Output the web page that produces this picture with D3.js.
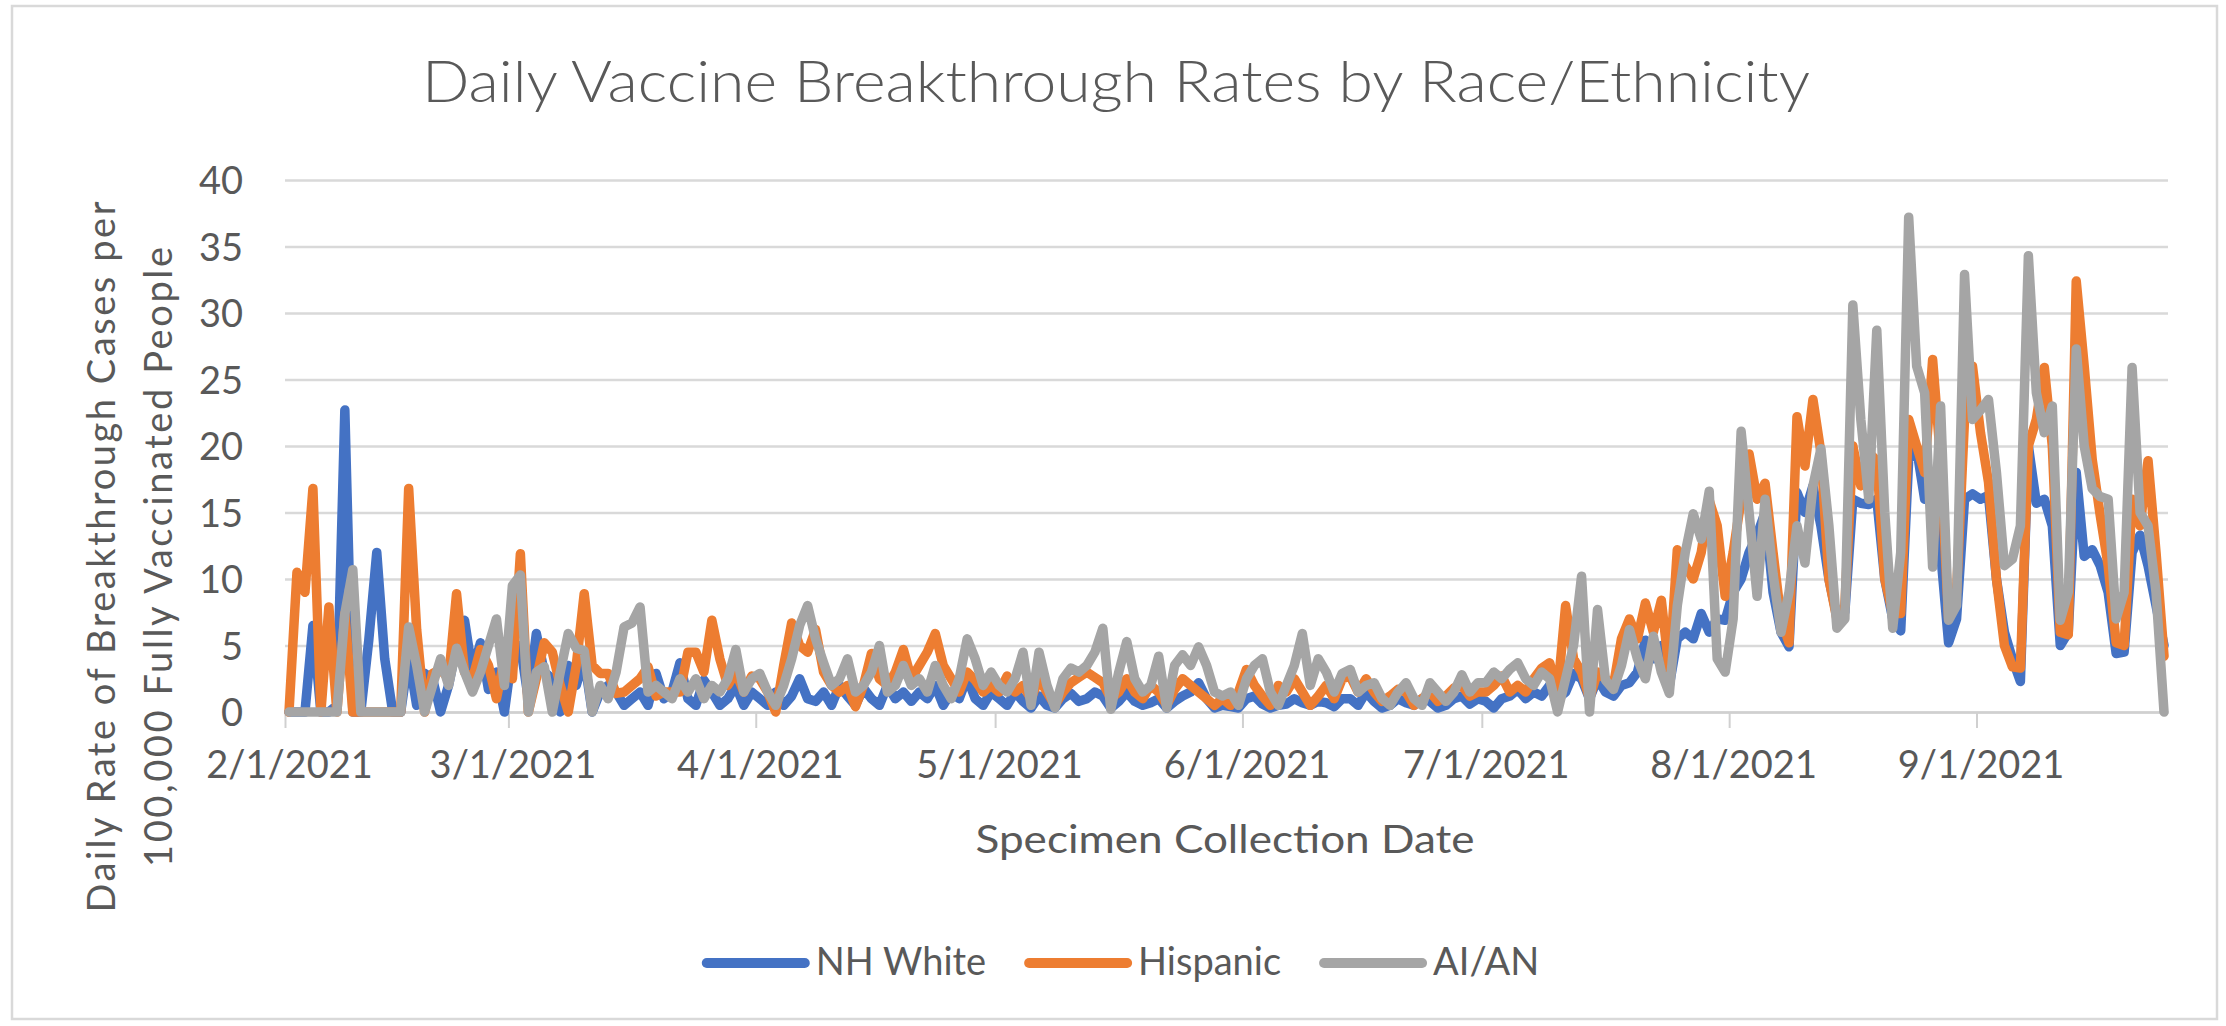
<!DOCTYPE html>
<html>
<head>
<meta charset="utf-8">
<script src="https://cdn.jsdelivr.net/npm/d3@7"></script>
<style>
  html, body { margin: 0; padding: 0; background: #fff; }
  svg { display: block; }
  text { font-family: Lato, "Open Sans", sans-serif; fill: #595959; }
</style>
</head>
<body>
<svg id="chart" width="2226" height="1026"></svg>
<script>
// first day of data, and the day after the last one (end of the date axis)
const startDay = "2021-02-01";
const endDay = "2021-09-25";
const monthTicks = ["2021-02-01", "2021-03-01", "2021-04-01", "2021-05-01",
  "2021-06-01", "2021-07-01", "2021-08-01", "2021-09-01"];
const yTicks = [0, 5, 10, 15, 20, 25, 30, 35, 40];

const seriesNames = ["NH White", "Hispanic", "AI/AN"];
const seriesColors = ["#4472C4", "#ED7D31", "#A5A5A5"];

// daily rates, 2/1/2021 .. 9/24/2021
const nhWhite = [
  // Feb
  0, 0, 0, 6.5, 0, 0, 0.5, 22.7, 0, 0, 5.4, 12, 4, 0, 0, 4.2, 0.5, 2.9, 2.5, 0, 2, 5, 6.9, 3, 5.2, 1.7, 3, 0,
  // Mar
  4.5, 5, 1, 5.9, 3, 2.5, 0, 3.5, 2, 4, 0, 1.5, 2, 1.5, 0.5, 1, 1.5, 0.5, 2.9, 1, 1.5, 3.7, 1, 0.5, 2.4, 1.5, 0.5, 1, 2, 0.5, 1.5,
  // Apr
  1, 0.5, 1.5, 0.5, 1.2, 2.5, 1, 0.8, 1.5, 0.5, 2, 1.2, 0.5, 1.8, 1, 0.5, 2, 1, 1.5, 0.8, 1.5, 1, 2, 0.5, 1.5, 1, 2.6, 1, 0.5, 1.5,
  // May
  1, 0.5, 1.5, 0.8, 0.3, 1.2, 0.5, 0.3, 1, 1.4, 0.8, 1, 1.5, 1.2, 0.3, 0.8, 1.5, 0.8, 0.5, 0.7, 1, 0.3, 0.8, 1.2, 1.5, 2.2, 1, 0.3, 0.5, 0.4, 0.3,
  // Jun
  1, 1.2, 0.6, 0.3, 0.5, 0.6, 1, 0.7, 0.5, 0.8, 0.7, 0.4, 1, 1, 0.5, 1.5, 0.8, 0.3, 0.5, 1, 0.7, 0.5, 1, 0.8, 0.3, 0.5, 1, 1.2, 0.6, 1,
  // Jul
  0.8, 0.3, 1, 1.2, 1.7, 1, 1.5, 1.2, 2, 1, 1.5, 2.9, 2.5, 1, 2.5, 1.5, 1.2, 2, 2.2, 3, 5.4, 4, 5, 2, 5.5, 6, 5.5, 7.4, 6, 7, 6.9,
  // Aug
  9, 10, 12, 13.3, 15, 9, 6, 4.9, 16.5, 15, 17, 14, 10, 7.2, 7.5, 16, 15.7, 15.6, 16, 10, 7, 6.1, 19, 19.8, 16, 17, 12, 5.2, 7, 16, 16.4,
  // Sep
  16, 16.3, 10, 6, 4, 2.3, 20, 15.7, 16, 14, 5, 6, 18, 11.7, 12.2, 11, 9, 4.4, 4.5, 12, 13.3, 11, 8, 5
];
const hispanic = [
  0, 10.5, 9, 16.8, 0, 7.9, 0, 7.4, 0, 0, 0, 0, 0, 0, 0, 16.8, 6.2, 0, 2.9, 3.2, 2.5, 8.9, 3, 2.5, 4.7, 3.5, 1, 4,
  2.5, 11.9, 0, 2.5, 5.2, 4.5, 2, 0, 3.5, 8.9, 3.5, 2.9, 2.9, 1.4, 1.5, 2, 2.5, 3.4, 1.2, 1.5, 1.5, 1.5, 4.5, 4.5, 3, 6.9, 4, 2, 3, 1.5, 2.7,
  2.5, 1.5, 0, 3.5, 6.7, 5, 4.5, 6.2, 3, 2, 1.5, 2, 0.4, 2, 4.4, 2.5, 2, 3, 4.7, 2.5, 3.5, 4.5, 5.9, 3.5, 2.5, 1.5, 3, 2.4, 1.5, 2,
  1.5, 2.7, 1.5, 2, 1, 2.5, 1.5, 0.5, 1.5, 2.2, 2.6, 3, 2.6, 2.2, 1, 1.5, 2.5, 1.5, 1, 2, 1.5, 0.5, 1.7, 2.5, 2, 1.5, 1, 0.5, 1, 0.5, 1.5,
  3.2, 2, 1.2, 0.5, 2, 1.5, 2.5, 1.5, 0.5, 1.2, 2, 1, 2.5, 2.7, 1.5, 2.5, 1.5, 0.8, 1.2, 1.7, 1.5, 0.5, 1, 1.5, 0.8, 1.2, 1.8, 2, 1.2, 1.5,
  1.5, 2, 2.7, 1.5, 2, 1.5, 2.5, 3.3, 3.7, 1.5, 8, 4, 3, 1, 3, 2.5, 2, 5.5, 7, 5.5, 8.2, 6, 8.4, 3, 12.2, 11, 10, 12, 15.9, 14, 8.7,
  12, 16, 19.4, 16, 17.2, 12, 7, 5.2, 22.2, 18.5, 23.5, 19.5, 10, 7, 8, 20, 17, 19.5, 18.9, 10, 7.4, 7.4, 22, 20, 18, 26.5, 19, 7, 9, 22, 26,
  21, 17.3, 10, 5, 3.4, 3.3, 20, 22, 25.9, 20, 6, 5.8, 32.4, 26, 19, 14.8, 11, 5.2, 5, 16, 14, 18.9, 12, 4.2
];
const aian = [
  0, 0, 0, 0, 0, 0, 0, 7.4, 10.7, 0, 0, 0, 0, 0, 0, 6.4, 3.5, 0, 2, 4, 2, 4.8, 3, 1.5, 3, 5, 7, 2,
  9.5, 10.3, 0, 3, 3.4, 0, 3, 5.9, 4.8, 4.6, 0, 2, 1, 3, 6.4, 6.7, 7.9, 1.5, 2, 1.5, 1, 2.5, 1.5, 2.5, 1, 2, 1.5, 2.5, 4.7, 1.5, 2.5,
  2.9, 1.5, 0.5, 2, 4, 6.5, 8, 5.5, 3.7, 2, 2.5, 4, 1.5, 2, 3, 5, 1.5, 2, 3.5, 2, 2.5, 1.5, 3.5, 2, 1, 2.5, 5.5, 4, 2, 3,
  2, 1.5, 2.5, 4.5, 0.5, 4.5, 2, 0.3, 2.5, 3.3, 3, 3.5, 4.5, 6.3, 0.2, 3, 5.3, 2.5, 1.5, 2, 4.2, 0.3, 3.5, 4.3, 3.5, 4.9, 3.5, 1.5, 1.2, 1.5, 0.5,
  2.5, 3.5, 4, 1.5, 0.5, 2, 3.5, 5.9, 2, 4, 3, 1.5, 2.9, 3.2, 1.5, 2, 2.2, 1, 0.5, 1.5, 2.2, 1, 0.5, 2.2, 1.5, 0.8, 1.5, 2.8, 1.5, 2.2,
  2.2, 3, 2.5, 3.2, 3.7, 2.5, 2, 3, 2.5, 0, 2.5, 5, 10.2, 0, 7.7, 2.4, 1.7, 3.5, 6.2, 4, 2.5, 5.7, 3, 1.4, 8, 12, 14.9, 13, 16.6, 4, 3,
  7, 21.1, 15, 8.7, 16, 10.4, 6, 9, 14, 11.2, 17, 19.8, 14, 6.3, 7, 30.6, 22, 16, 28.7, 15, 6.3, 12, 37.2, 26, 24, 10.9, 23, 6.9, 8, 32.9, 22,
  22.7, 23.5, 18, 11, 11.5, 14, 34.3, 24, 21, 23, 6.9, 9, 27.3, 20, 16.8, 16.2, 16, 7, 9, 25.9, 15, 14, 9, 0
];

const DAY = 864e5;
const parse = d3.utcParse("%Y-%m-%d");
const fmt = d3.utcFormat("%-m/%-d/%Y");

const svg = d3.select("#chart");
const plot = { left: 285, right: 2168, top: 180, bottom: 712 };

// chart area outline
svg.append("rect")
  .attr("x", 12).attr("y", 6)
  .attr("width", 2205).attr("height", 1013)
  .attr("fill", "#fff")
  .attr("stroke", "#d9d9d9")
  .attr("stroke-width", 2.5);

const x = d3.scaleUtc()
  .domain([parse(startDay), parse(endDay)])
  .range([plot.left, plot.right]);
const y = d3.scaleLinear()
  .domain([0, 40])
  .range([plot.bottom, plot.top]);

// excel puts each day's point in the middle of its day slot
const dayX = (i) => x(new Date(+parse(startDay) + i * DAY + DAY / 2));

// gridlines
svg.append("g")
  .attr("class", "grid")
  .attr("transform", `translate(${plot.left},0)`)
  .call(d3.axisLeft(y).tickValues(yTicks).tickSize(-(plot.right - plot.left)).tickFormat(""))
  .call((g) => g.select(".domain").remove())
  .call((g) => g.selectAll("line").attr("stroke", "#d9d9d9").attr("stroke-width", 2.5));

// y tick labels
svg.append("g")
  .attr("transform", "translate(243,0)")
  .call(d3.axisLeft(y).tickValues(yTicks).tickSize(0).tickPadding(0))
  .attr("font-family", null)
  .attr("font-size", 38)
  .call((g) => g.select(".domain").remove())
  .call((g) => g.selectAll("text").attr("fill", "#595959").attr("dy", "0.36em"));

// x axis line + month ticks
svg.append("g")
  .attr("transform", `translate(0,${plot.bottom})`)
  .call(d3.axisBottom(x).tickValues(monthTicks.map(parse)).tickSize(16).tickSizeOuter(0).tickFormat(""))
  .call((g) => g.select(".domain").attr("stroke", "#d0d0d0").attr("stroke-width", 2.5))
  .call((g) => g.selectAll(".tick line").attr("stroke", "#d0d0d0").attr("stroke-width", 2));

// x tick labels, centred on the day slot
svg.append("g")
  .attr("transform", `translate(0,${plot.bottom})`)
  .call(d3.axisBottom(x)
    .tickValues(monthTicks.map((d) => new Date(+parse(d) + DAY / 2)))
    .tickSize(0).tickFormat(fmt))
  .attr("font-family", null)
  .attr("font-size", 38)
  .call((g) => g.select(".domain").remove())
  .call((g) => g.selectAll("text").attr("fill", "#595959").attr("y", 66).attr("dy", 0));

// lines
const line = d3.line()
  .x((d, i) => dayX(i))
  .y((d) => y(d));

const series = [nhWhite, hispanic, aian];
svg.append("g")
  .selectAll("path")
  .data(series)
  .join("path")
  .attr("d", (d) => line(d))
  .attr("fill", "none")
  .attr("stroke", (d, i) => seriesColors[i])
  .attr("stroke-width", 9.5)
  .attr("stroke-linejoin", "round")
  .attr("stroke-linecap", "round");

// title
svg.append("text")
  .attr("x", 1116).attr("y", 102)
  .attr("text-anchor", "middle")
  .attr("font-size", 58)
  .attr("font-weight", 300)
  .attr("textLength", 1388)
  .attr("lengthAdjust", "spacingAndGlyphs")
  .text("Daily Vaccine Breakthrough Rates by Race/Ethnicity");

// axis titles
svg.append("text")
  .attr("x", 1225).attr("y", 853)
  .attr("text-anchor", "middle")
  .attr("font-size", 38)
  .attr("textLength", 499)
  .attr("lengthAdjust", "spacingAndGlyphs")
  .text("Specimen Collection Date");

const yTitle = [
  { text: "Daily Rate of Breakthrough Cases per", x: 115, len: 711 },
  { text: "100,000 Fully Vaccinated People", x: 172, len: 620 }
];
svg.append("g")
  .selectAll("text")
  .data(yTitle)
  .join("text")
  .attr("transform", (d) => `translate(${d.x},557) rotate(-90)`)
  .attr("text-anchor", "middle")
  .attr("font-size", 38)
  .attr("textLength", (d) => d.len)
  .attr("lengthAdjust", "spacing")
  .text((d) => d.text);

// legend
const legend = svg.append("g");
const items = legend.selectAll("g")
  .data(seriesNames)
  .join("g");
items.append("line")
  .attr("x1", 0).attr("x2", 98)
  .attr("y1", 963).attr("y2", 963)
  .attr("stroke", (d, i) => seriesColors[i])
  .attr("stroke-width", 10)
  .attr("stroke-linecap", "round");
items.append("text")
  .attr("x", 109).attr("y", 975)
  .attr("font-size", 38)
  .text((d) => d);

let widths = [];
items.each(function () {
  widths.push(109 + d3.select(this).select("text").node().getComputedTextLength());
});
const gap = 43;
const total = d3.sum(widths) + gap * (widths.length - 1);
let cx = 1123 - total / 2;
items.attr("transform", (d, i) => {
  const t = `translate(${cx},0)`;
  cx += widths[i] + gap;
  return t;
});
</script>
</body>
</html>
